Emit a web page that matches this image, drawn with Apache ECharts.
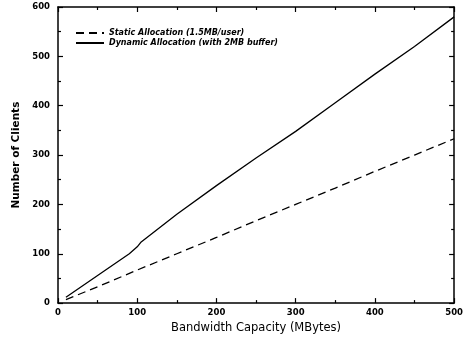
<!DOCTYPE html>
<html>
<head>
<meta charset="utf-8">
<script src="https://cdn.jsdelivr.net/npm/echarts@6/dist/echarts.min.js"></script>
<style>
  html, body { margin: 0; padding: 0; background: #fff; }
  #chart { width: 466px; height: 339px; }
</style>
</head>
<body>
<div id="chart"></div>
<script>
// bandwidth capacity (MBytes)
var staticX = [10, 50, 100, 150, 200, 250, 300, 350, 400, 450, 500];
var staticY = [7, 33, 67, 100, 133, 167, 200, 233, 267, 300, 333];

var dynamicX = [10, 50, 90, 100, 105, 150, 200, 250, 300, 350, 400, 450, 500];
var dynamicY = [12, 56, 100, 114, 124, 180, 238, 294, 348, 406, 464, 520, 580];

var xTicks = [0, 100, 200, 300, 400, 500];
var yTicks = [0, 100, 200, 300, 400, 500, 600];

var seriesNames = ['Static Allocation (1.5MB/user)', 'Dynamic Allocation (with 2MB buffer)'];

function pairs(xs, ys) {
	return xs.map(function(x, i) {
		return [x, ys[i]];
	});
}

var chart = echarts.init(document.getElementById('chart'));

var tickStyle = { color: '#000', width: 1.2 };
var frameLine = { show: true, onZero: false, lineStyle: { color: '#000', width: 1.5 } };

// one axis of the box; labelled ones get text, the others only ticks
function makeAxis(ticks, pos, extra) {
	var ax = {
		type: 'value',
		position: pos,
		min: ticks[0],
		max: ticks[ticks.length - 1],
		interval: 100,
		axisLine: frameLine,
		axisTick: { inside: true, length: 5, lineStyle: tickStyle },
		minorTick: { show: true, splitNumber: 2, length: 3, lineStyle: tickStyle },
		splitLine: { show: false },
		axisLabel: { show: false }
	};
	for (var k in extra) ax[k] = extra[k];
	return ax;
}

var labelStyle = { show: true, fontFamily: 'DejaVu Sans', fontWeight: 'bold', fontSize: 8.5, color: '#000' };

var option = {
	animation: false,
	backgroundColor: '#fff',
	grid: { left: 58, right: 11, top: 7, bottom: 30 },
	legend: {
		orient: 'vertical',
		left: 70,
		top: 24,
		itemWidth: 28,
		itemHeight: 10,
		itemGap: 2,
		data: seriesNames,
		itemStyle: { opacity: 0 },
		textStyle: {
			fontFamily: 'DejaVu Sans',
			fontStyle: 'italic',
			fontWeight: 'bold',
			fontSize: 8,
			color: '#000'
		}
	},
	xAxis: [
		makeAxis(xTicks, 'bottom', {
			name: 'Bandwidth Capacity (MBytes)',
			nameLocation: 'middle',
			nameGap: 16,
			nameTextStyle: { fontFamily: 'DejaVu Sans', fontSize: 11.5, color: '#000' },
			axisLabel: Object.assign({ margin: 5 }, labelStyle)
		}),
		makeAxis(xTicks, 'top', {})
	],
	yAxis: [
		makeAxis(yTicks, 'left', {
			name: 'Number of Clients',
			nameLocation: 'middle',
			nameGap: 36,
			nameTextStyle: { fontFamily: 'DejaVu Sans', fontWeight: 'bold', fontSize: 10.5, color: '#000' },
			axisLabel: Object.assign({ margin: 8 }, labelStyle)
		}),
		makeAxis(yTicks, 'right', {})
	],
	series: [{
		name: seriesNames[0],
		type: 'line',
		symbol: 'none',
		data: pairs(staticX, staticY),
		lineStyle: { color: '#000', width: 1.3, type: [8, 5] },
		itemStyle: { color: '#000' }
	}, {
		name: seriesNames[1],
		type: 'line',
		symbol: 'none',
		data: pairs(dynamicX, dynamicY),
		lineStyle: { color: '#000', width: 1.3 },
		itemStyle: { color: '#000' }
	}]
};

chart.setOption(option);
</script>
</body>
</html>
